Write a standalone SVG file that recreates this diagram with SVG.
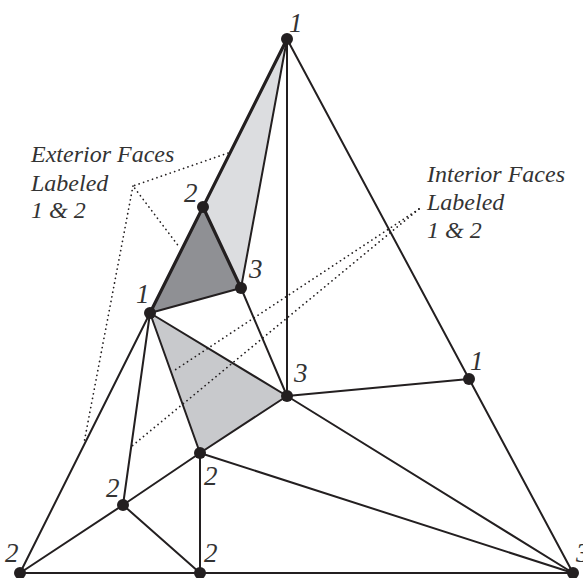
<svg xmlns="http://www.w3.org/2000/svg" width="583" height="578" viewBox="0 0 583 578">
<style>
.e{stroke:#231f20;stroke-width:2;fill:none;stroke-linecap:round}
.t{stroke:#231f20;stroke-width:3.2;fill:none;stroke-linecap:round}
.d{stroke:#231f20;stroke-width:1.7;fill:none;stroke-dasharray:0.1 4.6;stroke-linecap:round}
.n{fill:#231f20}
.lb{font-family:"Liberation Serif","Times New Roman",serif;font-style:italic;font-size:27px;fill:#333}
.tx{font-family:"Liberation Serif","Times New Roman",serif;font-style:italic;font-size:24px;fill:#333}
</style>
<rect width="583" height="578" fill="#fff"/>
<g id="faces">
<polygon points="287,39 203,207 241,288" fill="#dcdde0"/>
<polygon points="203,207 150,313 241,288" fill="#8f9094"/>
<polygon points="150,313 287,396 200,453" fill="#c8c9cc"/>
</g>
<g id="connectors">
<line class="t" x1="287" y1="39" x2="150" y2="313"/>
<line class="e" x1="150" y1="313" x2="20" y2="573"/>
<line class="e" x1="287" y1="39" x2="573" y2="573"/>
<line class="e" x1="20" y1="573" x2="573" y2="573"/>
<line class="e" x1="287" y1="39" x2="287" y2="396"/>
<line class="e" x1="287" y1="39" x2="241" y2="288"/>
<line class="t" x1="203" y1="207" x2="241" y2="288"/>
<line class="e" x1="150" y1="313" x2="241" y2="288"/>
<line class="e" x1="241" y1="288" x2="287" y2="396"/>
<line class="e" x1="150" y1="313" x2="287" y2="396"/>
<line class="e" x1="150" y1="313" x2="200" y2="453"/>
<line class="e" x1="150" y1="313" x2="123" y2="505"/>
<line class="e" x1="287" y1="396" x2="469" y2="379"/>
<line class="e" x1="287" y1="396" x2="200" y2="453"/>
<line class="e" x1="287" y1="396" x2="573" y2="573"/>
<line class="e" x1="200" y1="453" x2="573" y2="573"/>
<line class="e" x1="200" y1="453" x2="200" y2="573"/>
<line class="e" x1="200" y1="453" x2="123" y2="505"/>
<line class="e" x1="123" y1="505" x2="20" y2="573"/>
<line class="e" x1="123" y1="505" x2="200" y2="573"/>
<polyline class="d" points="228,153 133,186 180,248"/>
<line class="d" x1="133" y1="186" x2="84" y2="443"/>
<line class="d" x1="419" y1="209" x2="172" y2="372"/>
<line class="d" x1="419" y1="209" x2="132" y2="446"/>
</g>
<g id="n-top"><circle class="n" cx="287" cy="39" r="6"/><text class="lb" x="289" y="32">1</text></g>
<g id="n-b"><circle class="n" cx="203" cy="207" r="6"/><text class="lb" x="184" y="202">2</text></g>
<g id="n-c"><circle class="n" cx="241" cy="288" r="6"/><text class="lb" x="249" y="278">3</text></g>
<g id="n-d"><circle class="n" cx="150" cy="313" r="6"/><text class="lb" x="136" y="303">1</text></g>
<g id="n-e"><circle class="n" cx="287" cy="396" r="6"/><text class="lb" x="294" y="382">3</text></g>
<g id="n-f"><circle class="n" cx="469" cy="379" r="6"/><text class="lb" x="470" y="370">1</text></g>
<g id="n-g"><circle class="n" cx="200" cy="453" r="6"/><text class="lb" x="204" y="485">2</text></g>
<g id="n-h"><circle class="n" cx="123" cy="505" r="6"/><text class="lb" x="106" y="497">2</text></g>
<g id="n-i"><circle class="n" cx="20" cy="573" r="6"/><text class="lb" x="5" y="562">2</text></g>
<g id="n-j"><circle class="n" cx="200" cy="573" r="6"/><text class="lb" x="204" y="562">2</text></g>
<g id="n-k"><circle class="n" cx="573" cy="573" r="6"/><text class="lb" x="576" y="562">3</text></g>
<g id="label-exterior">
<text class="tx" x="31" y="162">Exterior Faces</text>
<text class="tx" x="31" y="191">Labeled</text>
<text class="tx" x="31" y="218">1 &amp; 2</text>
</g>
<g id="label-interior">
<text class="tx" x="427" y="182">Interior Faces</text>
<text class="tx" x="427" y="210">Labeled</text>
<text class="tx" x="427" y="238">1 &amp; 2</text>
</g>
</svg>
